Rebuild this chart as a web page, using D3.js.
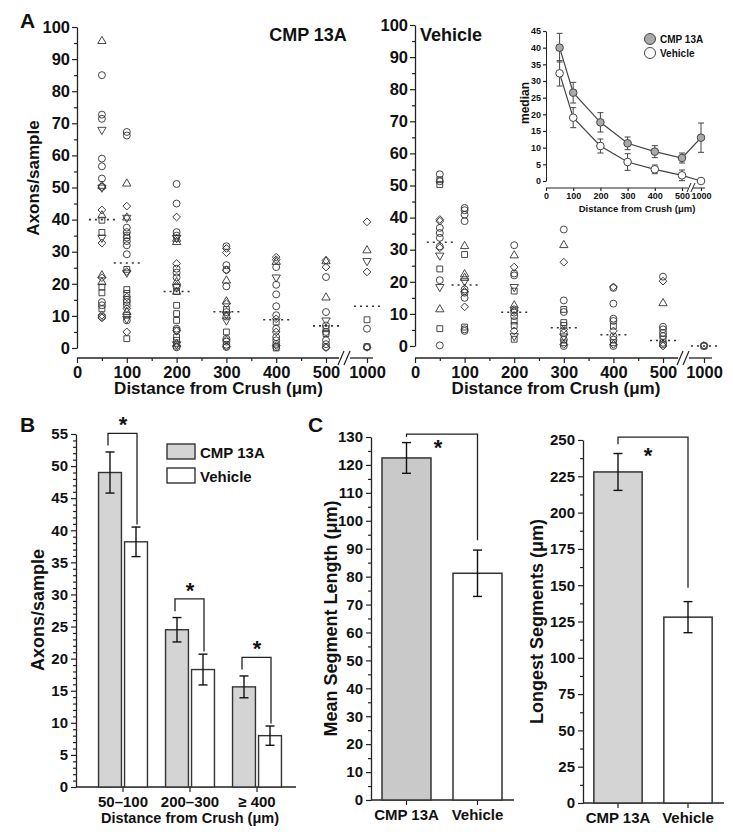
<!DOCTYPE html>
<html>
<head>
<meta charset="utf-8">
<script src="https://cdn.jsdelivr.net/npm/d3@7"></script>
<style>
body { margin: 0; background: #fff; }
text { font-family: "Liberation Sans", Arial, sans-serif; font-weight: bold; fill: #111; }
</style>
</head>
<body>
<script>
// ---- data ----
var distances = [50, 100, 200, 300, 400, 500, 1000]
var distTicks = [0, 100, 200, 300, 400, 500, 1000]
var distMinor = [50, 150, 250, 350, 450]

// scatter points: [distance, axons, marker]  c=circle s=square t=triangle v=down triangle d=diamond
var cmpPoints = [
  [50,95.6,"t"],[50,85,"c"],[50,72.7,"c"],[50,71.4,"c"],[50,68,"v"],[50,59,"c"],[50,56.6,"c"],[50,52.8,"c"],
  [50,50.2,"c"],[50,50.5,"t"],[50,50,"v"],[50,43,"d"],[50,41.3,"t"],[50,39.8,"s"],[50,36,"s"],[50,34.4,"v"],
  [50,32.7,"d"],[50,22.6,"t"],[50,21.9,"d"],[50,20.5,"t"],[50,19,"s"],[50,17.2,"s"],[50,14.3,"c"],[50,13.3,"c"],
  [50,12.2,"s"],[50,10.2,"d"],[50,9.7,"c"],[50,9.4,"d"],
  [100,67.3,"c"],[100,66.2,"c"],[100,51.2,"t"],[100,44.2,"d"],[100,40.6,"t"],[100,40.6,"v"],[100,37.5,"c"],
  [100,36.1,"c"],[100,35,"s"],[100,34.4,"c"],[100,33.3,"c"],[100,32,"c"],[100,29.2,"c"],[100,24.5,"s"],
  [100,23.5,"v"],[100,23.8,"d"],[100,18.2,"s"],[100,17,"s"],[100,15.9,"d"],[100,15,"c"],[100,14.3,"c"],
  [100,13.3,"c"],[100,12.3,"d"],[100,11.2,"t"],[100,10.2,"s"],[100,9.1,"v"],[100,8.6,"c"],[100,5,"d"],[100,2.9,"s"],
  [200,51.1,"c"],[200,45,"c"],[200,40.8,"d"],[200,36.1,"c"],[200,35,"c"],[200,34,"t"],[200,34.3,"v"],[200,33,"t"],
  [200,26.3,"d"],[200,24.7,"c"],[200,23.5,"c"],[200,22,"c"],[200,20.5,"t"],[200,19.5,"d"],[200,19,"c"],
  [200,17.6,"s"],[200,17.5,"t"],[200,13.3,"s"],[200,10.7,"s"],[200,8.6,"s"],[200,6,"c"],[200,5.3,"d"],
  [200,5.5,"c"],[200,3.4,"s"],[200,2.4,"s"],[200,1.3,"t"],[200,1.2,"v"],[200,0.5,"d"],[200,0.2,"c"],
  [300,31.7,"c"],[300,31,"d"],[300,29.7,"d"],[300,25.8,"c"],[300,24.4,"c"],[300,24.2,"d"],[300,21,"t"],
  [300,19.2,"c"],[300,14.5,"t"],[300,13.8,"d"],[300,12,"s"],[300,11.2,"c"],[300,10.5,"v"],[300,9.8,"c"],
  [300,8.6,"v"],[300,5,"s"],[300,2.9,"c"],[300,2.5,"d"],[300,2,"c"],[300,1,"c"],[300,0.5,"d"],[300,0.3,"c"],
  [400,28.3,"d"],[400,27.5,"d"],[400,26.8,"t"],[400,25.2,"c"],[400,22,"v"],[400,19.7,"c"],[400,16.7,"c"],
  [400,13,"c"],[400,10.2,"c"],[400,9.1,"d"],[400,8.1,"s"],[400,6,"c"],[400,5,"d"],[400,3.4,"c"],[400,2.4,"c"],
  [400,1.3,"c"],[400,0.8,"d"],[400,0.3,"c"],[400,0,"s"],
  [500,27.3,"d"],[500,27,"t"],[500,25.2,"d"],[500,22.1,"c"],[500,15.7,"t"],[500,11.2,"c"],[500,8.6,"v"],
  [500,7,"c"],[500,6,"s"],[500,5,"c"],[500,4.5,"s"],[500,2.4,"c"],[500,1.2,"c"],[500,0.3,"c"],[500,0.1,"d"],
  [1000,39.3,"d"],[1000,30.4,"t"],[1000,27.1,"v"],[1000,23.7,"d"],[1000,8.8,"s"],[1000,6,"c"],[1000,0.3,"c"],
  [1000,0.2,"d"],[1000,0.4,"s"]
]
var vehPoints = [
  [50,53.5,"c"],[50,51.8,"s"],[50,51.3,"c"],[50,50.3,"s"],[50,39.4,"d"],[50,38.9,"d"],[50,36.8,"c"],[50,35.2,"c"],
  [50,33.7,"c"],[50,30.6,"d"],[50,31,"c"],[50,28.2,"v"],[50,24,"s"],[50,20.5,"c"],[50,18.4,"v"],[50,11.4,"t"],
  [50,5.4,"s"],[50,0.2,"c"],
  [100,43,"c"],[100,42.3,"c"],[100,40.9,"c"],[100,38.9,"c"],[100,31.1,"t"],[100,28.5,"s"],[100,22.3,"t"],
  [100,21.2,"t"],[100,20.2,"v"],[100,17.6,"c"],[100,17,"d"],[100,16.6,"c"],[100,15,"c"],[100,12.2,"d"],
  [100,5.9,"s"],[100,5.2,"c"],[100,4.7,"c"],
  [200,31.4,"c"],[200,28.2,"t"],[200,24.6,"d"],[200,22.6,"c"],[200,22,"c"],[200,18.4,"v"],[200,17.1,"s"],
  [200,12.6,"t"],[200,11.4,"c"],[200,11,"d"],[200,10.4,"c"],[200,9.3,"c"],[200,7.8,"s"],[200,6.4,"s"],
  [200,4.7,"d"],[200,3.1,"v"],[200,2.1,"s"],
  [300,36.3,"c"],[300,31.4,"t"],[300,26.1,"d"],[300,14.2,"c"],[300,11.4,"s"],[300,10.6,"c"],[300,7.3,"s"],
  [300,6.4,"s"],[300,5.2,"d"],[300,4.1,"c"],[300,3,"v"],[300,2,"c"],[300,1,"s"],[300,0.5,"d"],[300,0,"c"],
  [400,18.4,"d"],[400,18.1,"c"],[400,13.2,"c"],[400,8.5,"c"],[400,7.8,"c"],[400,6.2,"s"],[400,4.7,"d"],
  [400,3,"c"],[400,2,"c"],[400,1,"s"],[400,0.5,"d"],[400,0,"c"],
  [500,21.6,"c"],[500,20.2,"d"],[500,13.3,"t"],[500,6,"c"],[500,5.2,"c"],[500,4.1,"c"],[500,3.1,"c"],
  [500,2.1,"s"],[500,1,"c"],[500,0.5,"c"],[500,0,"d"],
  [1000,0,"c"],[1000,0.2,"d"],[1000,0,"s"]
]

// medians (inset + dotted lines) and their errors
var cmpMedian = [40, 26.5, 17.6, 11.3, 8.8, 6.9, 13]
var cmpMedErr = [4.3, 3.1, 2.9, 1.9, 1.8, 1.5, 4.4]
var vehMedian = [32.3, 19, 10.5, 5.7, 3.5, 1.7, 0]
var vehMedErr = [3.8, 3.0, 2.1, 2.5, 1.3, 1.6, 0]

// panel B
var bGroups = ["50–100", "200–300", "≥ 400"]
var bCmp = [49, 24.5, 15.6]
var bCmpErr = [3.2, 1.9, 1.7]
var bVeh = [38.2, 18.3, 8]
var bVehErr = [2.3, 2.4, 1.5]

// panel C
var cGroups = ["CMP 13A", "Vehicle"]
var cMean = [122.5, 81.2]
var cMeanErr = [5.5, 8.3]
var cLongest = [228, 128]
var cLongestErr = [12.7, 10.7]

// ---- drawing ----
var svg = d3.select("body").append("svg").attr("width", 733).attr("height", 832)
var ink = "#222"
var plain = d3.format("d")

function styleAxis(g, fs) {
  g.attr("font-size", fs)
  g.select(".domain").attr("stroke", ink).attr("stroke-width", 1.3)
  g.selectAll(".tick line").attr("stroke", ink).attr("stroke-width", 1.2)
  g.selectAll(".tick text").attr("fill", "#111")
}

function label(x, y, txt, fs, anchor, rot) {
  var t = svg.append("text").attr("x", x).attr("y", y).attr("font-size", fs)
    .attr("text-anchor", anchor || "middle").text(txt)
  if (rot) t.attr("transform", "rotate(-90," + x + "," + y + ")")
  return t
}

function breakMarks(x, y, h) {
  [0, 6].forEach(function(dx) {
    svg.append("line").attr("x1", x + dx - 3).attr("y1", y + h).attr("x2", x + dx + 3).attr("y2", y - h)
      .attr("stroke", ink).attr("stroke-width", 1.2)
  })
}

var symbolFn = d3.symbol()
function markerPath(k) {
  if (k == "c") return symbolFn.type(d3.symbolCircle).size(38)()
  if (k == "s") return symbolFn.type(d3.symbolSquare).size(34)()
  if (k == "d") return symbolFn.type(d3.symbolSquare).size(30)()
  return symbolFn.type(d3.symbolTriangle).size(30)()
}
function markerRot(k) { return k == "v" ? 180 : (k == "d" ? 45 : 0) }

// scatter panel
function scatterPanel(points, medians, x0, x500, x1000, yTop, yZero, axisBreak, lineEnd) {
  var x = d3.scaleLinear().domain([0, 500, 1000]).range([x0, x500, x1000])
  var y = d3.scaleLinear().domain([0, 100]).range([yZero, yTop])
  var axY = 358

  var gy = svg.append("g").attr("transform", "translate(" + x0 + ",0)")
    .call(d3.axisLeft(y).tickValues(d3.range(0, 101, 10)).tickSize(5).tickSizeOuter(0).tickPadding(2))
  styleAxis(gy, 16.5)
  var gym = svg.append("g").attr("transform", "translate(" + x0 + ",0)")
    .call(d3.axisLeft(y).tickValues(d3.range(5, 100, 10)).tickSize(3).tickFormat(""))
  gym.select(".domain").remove()
  styleAxis(gym, 16)

  var gx = svg.append("g").attr("transform", "translate(0," + axY + ")")
    .call(d3.axisBottom(x).tickValues(distTicks).tickFormat(plain).tickSize(5).tickPadding(3))
  gx.select(".domain").remove()
  styleAxis(gx, 16.5)
  var gxm = svg.append("g").attr("transform", "translate(0," + axY + ")")
    .call(d3.axisBottom(x).tickValues(distMinor).tickSize(3).tickFormat(""))
  gxm.select(".domain").remove()
  styleAxis(gxm, 16)
  svg.append("line").attr("x1", x0).attr("x2", axisBreak - 2).attr("y1", axY).attr("y2", axY)
    .attr("stroke", ink).attr("stroke-width", 1.3)
  svg.append("line").attr("x1", axisBreak + 9).attr("x2", lineEnd).attr("y1", axY).attr("y2", axY)
    .attr("stroke", ink).attr("stroke-width", 1.3)
  breakMarks(axisBreak, axY, 7)

  svg.append("g").selectAll("path").data(points).join("path")
    .attr("d", function(d) { return markerPath(d[2]) })
    .attr("transform", function(d) { return "translate(" + x(d[0]) + "," + y(d[1]) + ") rotate(" + markerRot(d[2]) + ")" })
    .attr("fill", "none").attr("stroke", "#333").attr("stroke-width", 0.9)

  svg.append("g").selectAll("line").data(medians).join("line")
    .attr("x1", function(d, i) { return x(distances[i]) - 13 })
    .attr("x2", function(d, i) { return x(distances[i]) + 13 })
    .attr("y1", function(d) { return y(d) }).attr("y2", function(d) { return y(d) })
    .attr("stroke", "#333").attr("stroke-width", 1.6).attr("stroke-dasharray", "2,4")

  label((x0 + x500) / 2 + 17, 394, "Distance from Crush (μm)", 17)
}

scatterPanel(cmpPoints, cmpMedian, 77, 326, 367, 27, 348, 341, 373)
scatterPanel(vehPoints, vehMedian, 415, 663, 704, 25, 346, 680, 712)
label(33, 178, "Axons/sample", 17, "middle", true).attr("dy", "0.35em")
label(308, 41, "CMP 13A", 18)
label(420, 41, "Vehicle", 18, "start")
label(20, 28, "A", 21, "start")

// inset
var ix = d3.scaleLinear().domain([0, 500, 1000]).range([546, 682, 701])
var iy = d3.scaleLinear().domain([0, 45]).range([181, 31])
var giy = svg.append("g").attr("transform", "translate(546,0)")
  .call(d3.axisLeft(iy).tickValues(d3.range(0, 46, 5)).tickSize(3).tickSizeOuter(0).tickPadding(2))
styleAxis(giy, 9)
giy.select(".domain").attr("stroke-width", 1)
var gix = svg.append("g").attr("transform", "translate(0,188)")
  .call(d3.axisBottom(ix).tickValues(distTicks).tickFormat(plain).tickSize(3).tickPadding(2))
gix.select(".domain").remove()
styleAxis(gix, 9)
svg.append("line").attr("x1", 546).attr("x2", 688).attr("y1", 188).attr("y2", 188).attr("stroke", ink)
svg.append("line").attr("x1", 693).attr("x2", 705).attr("y1", 188).attr("y2", 188).attr("stroke", ink)
;[0, 4].forEach(function(dx) {
  svg.append("line").attr("x1", 687 + dx).attr("y1", 192).attr("x2", 691 + dx).attr("y2", 183).attr("stroke", ink)
})
label(525, 103, "median", 12, "middle", true).attr("dy", "0.35em")
label(637, 212, "Distance from Crush (μm)", 9.5)

function insetSeries(vals, errs, fill) {
  var line = d3.line().x(function(d, i) { return ix(distances[i]) }).y(function(d) { return iy(d) })
  svg.append("path").attr("d", line(vals)).attr("fill", "none").attr("stroke", "#444").attr("stroke-width", 1.2)
  var g = svg.append("g")
  vals.forEach(function(v, i) {
    if (errs[i] > 0) {
      var cx = ix(distances[i])
      g.append("line").attr("x1", cx).attr("x2", cx).attr("y1", iy(v - errs[i])).attr("y2", iy(v + errs[i])).attr("stroke", "#444")
      ;[v - errs[i], v + errs[i]].forEach(function(e) {
        g.append("line").attr("x1", cx - 3).attr("x2", cx + 3).attr("y1", iy(e)).attr("y2", iy(e)).attr("stroke", "#444")
      })
    }
  })
  g.selectAll("circle").data(vals).join("circle")
    .attr("cx", function(d, i) { return ix(distances[i]) }).attr("cy", function(d) { return iy(d) })
    .attr("r", 3.8).attr("fill", fill).attr("stroke", "#444").attr("stroke-width", 1)
}
insetSeries(vehMedian, vehMedErr, "#fff")
insetSeries(cmpMedian, cmpMedErr, "#a9a9a9")
svg.append("circle").attr("cx", 650).attr("cy", 39).attr("r", 5.5).attr("fill", "#a9a9a9").attr("stroke", "#444")
svg.append("circle").attr("cx", 650).attr("cy", 53).attr("r", 5.5).attr("fill", "#fff").attr("stroke", "#444")
label(660, 43, "CMP 13A", 10, "start")
label(660, 57, "Vehicle", 10, "start")

// bar error helper
function errBar(cx, lo, hi, y, cap) {
  svg.append("line").attr("x1", cx).attr("x2", cx).attr("y1", y(lo)).attr("y2", y(hi)).attr("stroke", "#111").attr("stroke-width", 1.4)
  ;[lo, hi].forEach(function(e) {
    svg.append("line").attr("x1", cx - cap).attr("x2", cx + cap).attr("y1", y(e)).attr("y2", y(e)).attr("stroke", "#111").attr("stroke-width", 1.4)
  })
}
function bracket(xl, xr, yTop, yl, yr) {
  svg.append("path").attr("d", "M" + xl + "," + yl + "V" + yTop + "H" + xr + "V" + yr)
    .attr("fill", "none").attr("stroke", "#222").attr("stroke-width", 1.3)
}

// ---- panel B ----
var xB = d3.scaleBand().domain(bGroups).range([89.5, 290.5]).paddingInner(0.27).paddingOuter(0.135)
var xB1 = d3.scaleBand().domain(["cmp", "veh"]).range([0, xB.bandwidth()]).paddingInner(0.12)
var yB = d3.scaleLinear().domain([0, 55]).range([787, 434])
var gbY = svg.append("g").attr("transform", "translate(76,0)")
  .call(d3.axisLeft(yB).tickValues(d3.range(0, 56, 5)).tickSize(5).tickSizeOuter(0).tickPadding(3))
styleAxis(gbY, 15)
var gbYm = svg.append("g").attr("transform", "translate(76,0)")
  .call(d3.axisLeft(yB).tickValues(d3.range(0, 56, 1).filter(function(v) { return v % 5 })).tickSize(3).tickFormat(""))
gbYm.select(".domain").remove()
styleAxis(gbYm, 15)
var gbX = svg.append("g").attr("transform", "translate(0,787)")
  .call(d3.axisBottom(xB).tickSize(5).tickPadding(4))
gbX.select(".domain").remove()
styleAxis(gbX, 15)
svg.append("line").attr("x1", 76).attr("x2", 296).attr("y1", 787).attr("y2", 787).attr("stroke", ink).attr("stroke-width", 1.3)

bGroups.forEach(function(g, i) {
  var xc = xB(g) + xB1("cmp"), xv = xB(g) + xB1("veh"), w = xB1.bandwidth()
  svg.append("rect").attr("x", xc).attr("y", yB(bCmp[i])).attr("width", w).attr("height", yB(0) - yB(bCmp[i]))
    .attr("fill", "#d4d4d4").attr("stroke", "#333").attr("stroke-width", 1.4)
  svg.append("rect").attr("x", xv).attr("y", yB(bVeh[i])).attr("width", w).attr("height", yB(0) - yB(bVeh[i]))
    .attr("fill", "#fff").attr("stroke", "#333").attr("stroke-width", 1.4)
  errBar(xc + w / 2, bCmp[i] - bCmpErr[i], bCmp[i] + bCmpErr[i], yB, 4.5)
  errBar(xv + w / 2, bVeh[i] - bVehErr[i], bVeh[i] + bVehErr[i], yB, 4.5)
  var cTop = bCmp[i] + bCmpErr[i], vTop = bVeh[i] + bVehErr[i]
  bracket(xc + w / 2 - 2, xv + w / 2 + 1, yB(cTop + 2.9), yB(cTop + 1), yB(vTop + 0.4))
  label((xc + xv + w) / 2, yB(cTop + 2.9) + 1, "*", 22).attr("dy", "-0.1em")
})
svg.append("rect").attr("x", 167).attr("y", 444).attr("width", 28).attr("height", 15).attr("fill", "#d4d4d4").attr("stroke", "#333").attr("stroke-width", 1.4)
svg.append("rect").attr("x", 167).attr("y", 468).attr("width", 28).attr("height", 15).attr("fill", "#fff").attr("stroke", "#333").attr("stroke-width", 1.4)
label(200, 458, "CMP 13A", 15, "start")
label(200, 482, "Vehicle", 15, "start")
label(38, 610, "Axons/sample", 18, "middle", true).attr("dy", "0.35em")
label(190, 823, "Distance from Crush (μm)", 14.5)
label(20, 432, "B", 21, "start")

// ---- panel C ----
function cPanel(vals, errs, x0, x1, yDom, yTop, yZero, step, minorStep, fill, title, titleX, lineEnd, brTop, brLeft, brRight, starX, starY) {
  var x = d3.scaleBand().domain(cGroups).range([x0, x1]).paddingInner(0.31).paddingOuter(0.155)
  var y = d3.scaleLinear().domain([0, yDom]).range([yZero, yTop])
  var g = svg.append("g").attr("transform", "translate(" + x0 + ",0)")
    .call(d3.axisLeft(y).tickValues(d3.range(0, yDom + 1, step)).tickSize(5).tickSizeOuter(0).tickPadding(3))
  styleAxis(g, 15)
  var gm = svg.append("g").attr("transform", "translate(" + x0 + ",0)")
    .call(d3.axisLeft(y).tickValues(d3.range(minorStep, yDom, step)).tickSize(3).tickFormat(""))
  gm.select(".domain").remove()
  styleAxis(gm, 15)
  var gx = svg.append("g").attr("transform", "translate(0," + yZero + ")")
    .call(d3.axisBottom(x).tickSize(5).tickPadding(4))
  gx.select(".domain").remove()
  styleAxis(gx, 15)
  svg.append("line").attr("x1", x0).attr("x2", lineEnd).attr("y1", yZero).attr("y2", yZero).attr("stroke", ink).attr("stroke-width", 1.3)
  cGroups.forEach(function(c, i) {
    svg.append("rect").attr("x", x(c)).attr("y", y(vals[i])).attr("width", x.bandwidth()).attr("height", yZero - y(vals[i]))
      .attr("fill", i == 0 ? fill : "#fff").attr("stroke", "#333").attr("stroke-width", 1.5)
    errBar(x(c) + x.bandwidth() / 2, vals[i] - errs[i], vals[i] + errs[i], y, 4.5)
  })
  var xl = x(cGroups[0]) + x.bandwidth() / 2, xr = x(cGroups[1]) + x.bandwidth() / 2
  bracket(xl, xr, y(brTop), y(brLeft), y(brRight))
  label(starX, starY, "*", 22)
  label(titleX, (yTop + yZero) / 2, title, 18, "middle", true).attr("dy", "0.35em")
}
cPanel(cMean, cMeanErr, 371, 513, 130, 437, 800, 10, 5, "#c9c9c9", "Mean Segment Length (μm)", 331, 514, 131, 130, cMean[1] + cMeanErr[1] + 3.5, 438, 455)
cPanel(cLongest, cLongestErr, 583, 723, 250, 440, 803, 25, 12.5, "#d4d4d4", "Longest Segments (μm)", 537, 724, 252, 247, cLongest[1] + cLongestErr[1] + 9.5, 648, 463)
label(308, 432, "C", 21, "start")
</script>
</body>
</html>
